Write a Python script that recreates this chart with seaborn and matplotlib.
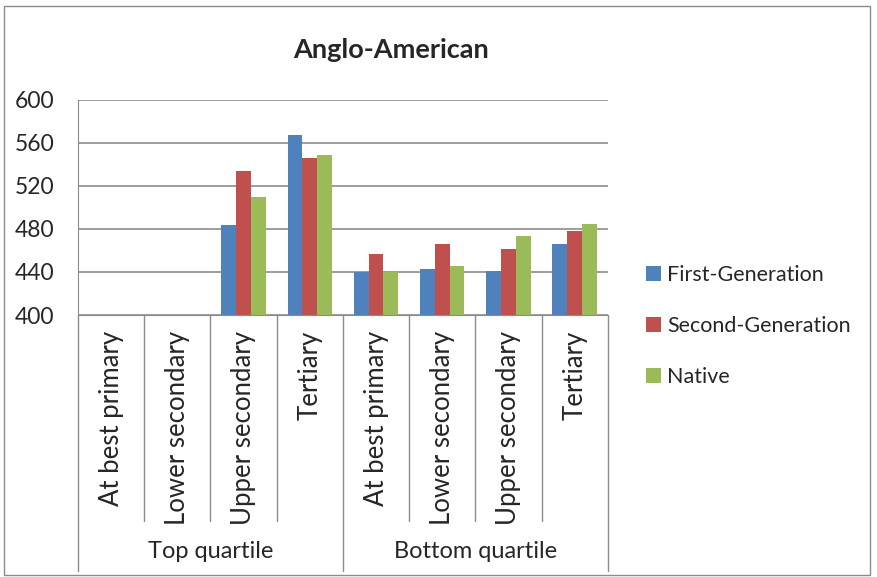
import numpy as np
import pandas as pd
import matplotlib.pyplot as plt
import seaborn as sns
from matplotlib.patches import Patch, Rectangle

groups = ["Top quartile", "Bottom quartile"]
levels = ["At best primary", "Lower secondary", "Upper secondary", "Tertiary"]
series = ["First-Generation", "Second-Generation", "Native"]

first_gen = [np.nan, np.nan, 484, 567, 440, 443, 441, 466]
second_gen = [np.nan, np.nan, 534, 546, 457, 466, 461, 478]
native = [np.nan, np.nan, 510, 549, 440, 446, 473, 485]

colors = ["#4F81BD", "#C0504D", "#9BBB59"]

keys = [f"{g}|{l}" for g in groups for l in levels]
rows = []
for name, vals in zip(series, [first_gen, second_gen, native]):
    for k, v in zip(keys, vals):
        rows.append({"cat": k, "series": name, "score": v})
df = pd.DataFrame(rows)

sns.set_style("white")
plt.rcParams["font.family"] = ["Lato", "DejaVu Sans"]

fig = plt.figure(figsize=(8.77, 5.77), dpi=100)
ax = fig.add_axes([0.089, 0.454, 0.604, 0.373])

sns.barplot(data=df, x="cat", y="score", hue="series", order=keys,
            hue_order=series, palette=colors, width=0.67, errorbar=None,
            saturation=1, edgecolor="none", linewidth=0, ax=ax, legend=False)

ax.set_ylim(400, 600)
ax.set_xlim(-0.5, len(keys) - 0.5)
ax.set_yticks(range(400, 601, 40))
ax.yaxis.grid(True, color="#8c8c8c", linewidth=1.2)
ax.set_axisbelow(True)
for s in ["top", "right"]:
    ax.spines[s].set_visible(False)
ax.spines["left"].set_color("#8c8c8c")
ax.spines["bottom"].set_color("#8c8c8c")
ax.tick_params(axis="y", length=7, color="#8c8c8c", labelsize=16.5, pad=10)
ax.set_xticks([])
ax.set_xlabel("")
ax.set_ylabel("")

fig.text(0.446, 0.913, "Anglo-American", ha="center", va="center",
         fontsize=19.5, fontweight="bold")

trans = ax.get_xaxis_transform()
for i, k in enumerate(keys):
    ax.text(i, -0.075, k.split("|")[1], rotation=90, ha="center", va="top",
            fontsize=18.5, transform=trans, clip_on=False)
for b in np.arange(-0.5, len(keys), 1):
    depth = -1.19 if b in (-0.5, 3.5, 7.5) else -0.955
    ax.plot([b, b], [0, depth], color="#8c8c8c", linewidth=1,
            transform=trans, clip_on=False)
for j, g in enumerate(groups):
    ax.text(1.5 + 4 * j, -1.10, g, ha="center", va="center", fontsize=17,
            transform=trans, clip_on=False)

handles = [Patch(facecolor=c, edgecolor="none") for c in colors]
fig.legend(handles, series, loc="center left", bbox_to_anchor=(0.715, 0.435),
           frameon=False, fontsize=15.5, handlelength=0.7, handleheight=0.7,
           handletextpad=0.25, labelspacing=1.42)

fig.patches.append(Rectangle((0.004, 0.004), 0.988, 0.985, transform=fig.transFigure,
                             fill=False, edgecolor="#8c8c8c", linewidth=1))

fig.savefig("out.png", dpi=100)
